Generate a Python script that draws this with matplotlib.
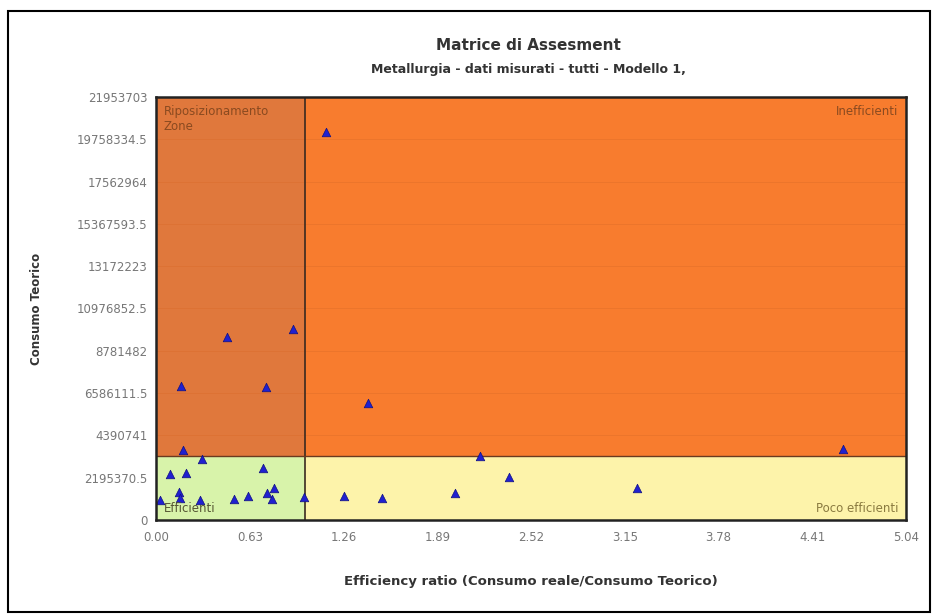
import matplotlib
matplotlib.use("Agg")
import matplotlib.pyplot as plt
from matplotlib.patches import Rectangle

# Data
eff_ratio = [1.142, 0.919, 0.475, 0.168, 0.739, 1.427, 0.179, 0.307, 2.179, 4.617,
             2.374, 0.094, 0.200, 0.717, 3.232, 2.009, 1.263, 1.521, 0.997, 0.027,
             0.157, 0.161, 0.296, 0.526, 0.620, 0.744, 0.793, 0.777]
consumo_teorico = [20.14e6, 9.90e6, 9.48e6, 6.95e6, 6.89e6, 6.09e6, 3.63e6, 3.15e6, 3.32e6, 3.68e6,
                   2.25e6, 2.37e6, 2.45e6, 2.68e6, 1.66e6, 1.39e6, 1.25e6, 1.13e6, 1.18e6, 1.04e6,
                   1.47e6, 1.14e6, 1.04e6, 1.09e6, 1.25e6, 1.39e6, 1.65e6, 1.07e6]
x_ticks = [0.0, 0.63, 1.26, 1.89, 2.52, 3.15, 3.78, 4.41, 5.04]
x_tick_labels = ["0.00", "0.63", "1.26", "1.89", "2.52", "3.15", "3.78", "4.41", "5.04"]
y_ticks = [0, 2195370.5, 4390741, 6586111.5, 8781482, 10976852.5, 13172223, 15367593.5, 17562964, 19758334.5, 21953703]
y_tick_labels = ["0", "2195370.5", "4390741", "6586111.5", "8781482", "10976852.5", "13172223",
                 "15367593.5", "17562964", "19758334.5", "21953703"]
x_threshold = 1.0
y_threshold = 3.32e6
quadrant_labels = ["Riposizionamento\nZone", "Inefficienti", "Efficienti", "Poco efficienti"]

xmax = 5.04
ymax = 21953703

fig = plt.figure(figsize=(9.39, 6.15), dpi=100)
# outer frame
fig.patches.append(Rectangle((8/939, 1-612/615), 922/939, 601/615, transform=fig.transFigure,
                             fill=False, edgecolor="black", linewidth=1.5))

ax = fig.add_axes([156/939, 1-520/615, 750/939, 423/615])
ax.set_xlim(0, xmax)
ax.set_ylim(0, ymax)

# quadrants
ax.add_patch(Rectangle((0, y_threshold), x_threshold, ymax - y_threshold, facecolor="#e0783c", edgecolor="none", zorder=0))
ax.add_patch(Rectangle((x_threshold, y_threshold), xmax - x_threshold, ymax - y_threshold, facecolor="#f87c2e", edgecolor="none", zorder=0))
ax.add_patch(Rectangle((0, 0), x_threshold, y_threshold, facecolor="#d8f3aa", edgecolor="none", zorder=0))
ax.add_patch(Rectangle((x_threshold, 0), xmax - x_threshold, y_threshold, facecolor="#fdf3aa", edgecolor="none", zorder=0))

# faint gridlines (visible only in the upper, orange band)
for yt in y_ticks[1:-1]:
    if yt > y_threshold:
        ax.axhline(yt, color="#d96a28", linewidth=0.6, alpha=0.45, zorder=1)

ax.axvline(x_threshold, color="#3a2a20", linewidth=1.2, zorder=2)
ax.axhline(y_threshold, color="#6a3a20", linewidth=1.0, zorder=2)

ax.scatter(eff_ratio, consumo_teorico, marker="^", s=38, color="#2020d0", edgecolors="#101080",
           linewidths=0.5, zorder=3)

ax.text(0.05, ymax * 0.982, quadrant_labels[0], fontsize=8.5, color="#8a4a20", va="top", ha="left", zorder=4)
ax.text(xmax - 0.05, ymax * 0.982, quadrant_labels[1], fontsize=8.5, color="#8a4a20", va="top", ha="right", zorder=4)
ax.text(0.05, ymax * 0.012, quadrant_labels[2], fontsize=8.5, color="#555533", va="bottom", ha="left", zorder=4)
ax.text(xmax - 0.05, ymax * 0.012, quadrant_labels[3], fontsize=8.5, color="#8a7a40", va="bottom", ha="right", zorder=4)

ax.set_xticks(x_ticks)
ax.set_xticklabels(x_tick_labels)
ax.set_yticks(y_ticks)
ax.set_yticklabels(y_tick_labels)
ax.tick_params(axis="both", length=0, labelsize=8.5, labelcolor="#777777")
ax.tick_params(axis="x", pad=8)
ax.tick_params(axis="y", pad=6)

for sp in ax.spines.values():
    sp.set_linewidth(1.8)
    sp.set_color("#222222")
    sp.set_zorder(5)

ax.set_xlabel("Efficiency ratio (Consumo reale/Consumo Teorico)", fontsize=9.5, fontweight="bold",
              color="#333333")
ax.set_ylabel("Consumo Teorico", fontsize=8.5, fontweight="bold", color="#333333")
ax.xaxis.set_label_coords(0.5, -0.13)
ax.yaxis.set_label_coords(-0.150, 0.5)

fig.text(528/939, 1-45/615, "Matrice di Assesment", ha="center", va="center", fontsize=11,
         fontweight="bold", color="#333333")
fig.text(528/939, 1-70/615, "Metallurgia - dati misurati - tutti - Modello 1,", ha="center", va="center",
         fontsize=9, fontweight="bold", color="#333333")

fig.savefig("out.png", dpi=100)
